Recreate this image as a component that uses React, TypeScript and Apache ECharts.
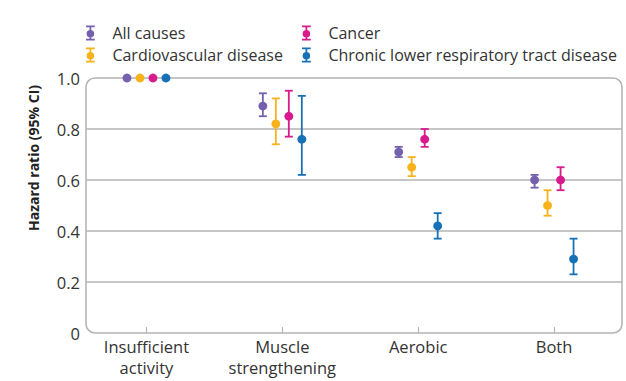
import React, { useEffect, useRef } from "react";
import * as echarts from "echarts";

const categories = ["Insufficient\nactivity", "Muscle\nstrengthening", "Aerobic", "Both"];
const seriesNames = ["All causes", "Cardiovascular disease", "Cancer", "Chronic lower respiratory tract disease"];
const seriesColors = ["#7460ac", "#f8b21c", "#d81b8c", "#1771b7"];
// hazard ratio, lower CI, upper CI per category (null CI = reference)
const allCauses: (number | null)[][] = [[1.0, null, null], [0.89, 0.85, 0.94], [0.71, 0.69, 0.73], [0.6, 0.57, 0.62]];
const cardiovascular: (number | null)[][] = [[1.0, null, null], [0.82, 0.74, 0.92], [0.65, 0.615, 0.69], [0.5, 0.46, 0.56]];
const cancer: (number | null)[][] = [[1.0, null, null], [0.85, 0.77, 0.95], [0.76, 0.73, 0.8], [0.6, 0.56, 0.65]];
const chronicLower: (number | null)[][] = [[1.0, null, null], [0.76, 0.62, 0.93], [0.42, 0.37, 0.47], [0.29, 0.23, 0.37]];
const yAxisTitle = "Hazard ratio (95% CI)";

const FONT = "Open Sans";
const W = 626;
const H = 381;
const GRID = { left: 86, right: 4, top: 78, bottom: 48 };
const ICON = "path://M0,0H7V1.4H0Z M2.8,1.4H4.2V4H2.8Z M2.8,9.2H4.2V10.6H2.8Z M0,10.6H7V12H0Z M0.5,6.6A3,3 0 1 1 6.5,6.6A3,3 0 1 1 0.5,6.6Z";

export default function App() {
  const ref = useRef<HTMLDivElement>(null);
  useEffect(() => {
    if (!ref.current) return;
    const chart = echarts.init(ref.current, null, { renderer: "svg" });
    const allData = [allCauses, cardiovascular, cancer, chronicLower];
    const offsetStep = 0.0956;
    const series = allData.map((arr, si) => ({
      name: seriesNames[si],
      type: "custom",
      z: 5,
      itemStyle: { color: seriesColors[si] },
      encode: { x: 0, y: 1 },
      data: arr.map((d, ci) => [ci + (si - 1.5) * offsetStep, d[0], d[1] == null ? NaN : d[1], d[2] == null ? NaN : d[2]]),
      renderItem: (params: any, api: any) => {
        const x = api.value(0);
        const v = api.value(1);
        const lo = api.value(2);
        const hi = api.value(3);
        const p = api.coord([x, v]);
        const color = seriesColors[si];
        const children: any[] = [];
        if (!isNaN(lo) && !isNaN(hi)) {
          const pl = api.coord([x, lo]);
          const ph = api.coord([x, hi]);
          const cap = 4;
          const ls = { stroke: color, lineWidth: 1.8 };
          children.push({ type: "line", shape: { x1: p[0], y1: pl[1], x2: p[0], y2: ph[1] }, style: ls });
          children.push({ type: "line", shape: { x1: p[0] - cap, y1: pl[1], x2: p[0] + cap, y2: pl[1] }, style: ls });
          children.push({ type: "line", shape: { x1: p[0] - cap, y1: ph[1], x2: p[0] + cap, y2: ph[1] }, style: ls });
        }
        children.push({ type: "circle", shape: { cx: p[0], cy: p[1], r: 4.4 }, style: { fill: color } });
        return { type: "group", children };
      },
    }));

    const legendCommon = {
      orient: "vertical",
      top: 20,
      itemWidth: 34,
      itemHeight: 15,
      itemGap: 6,
      selectedMode: false,
      textStyle: { fontFamily: FONT, fontSize: 16, color: "#333" },
    };

    chart.setOption({
      animation: false,
      textStyle: { fontFamily: FONT },
      legend: [
        { ...legendCommon, left: 81, data: [seriesNames[0], seriesNames[1]].map((n) => ({ name: n, icon: ICON })) },
        { ...legendCommon, left: 297, data: [seriesNames[2], seriesNames[3]].map((n) => ({ name: n, icon: ICON })) },
      ],
      grid: { ...GRID },
      graphic: [
        {
          type: "rect",
          z: 0,
          shape: { x: GRID.left, y: GRID.top, width: W - GRID.left - GRID.right, height: H - GRID.top - GRID.bottom, r: 9 },
          style: { fill: "none", stroke: "#b3b3b3", lineWidth: 1.5 },
        },
        {
          type: "text",
          x: 33,
          y: 158,
          rotation: Math.PI / 2,
          style: {
            text: yAxisTitle,
            align: "center",
            verticalAlign: "middle",
            fontFamily: FONT,
            fontSize: 14,
            fontWeight: "bold",
            fill: "#222",
          },
        },
      ],
      xAxis: {
        type: "value",
        min: -0.445,
        max: 3.5,
        axisLine: { show: false },
        splitLine: { show: false },
        axisTick: { show: true, inside: true, length: 6, customValues: [0, 1, 2, 3], lineStyle: { color: "#b3b3b3", width: 1.2 } },
        axisLabel: {
          customValues: [0, 1, 2, 3],
          formatter: (v: number) => categories[Math.round(v)] ?? "",
          fontFamily: FONT,
          fontSize: 16.5,
          color: "#333",
          lineHeight: 21,
          margin: 3,
        },
      },
      yAxis: {
        type: "value",
        min: 0,
        max: 1,
        interval: 0.2,
        axisLine: { show: false },
        axisTick: { show: false },
        axisLabel: {
          formatter: (v: number) => (v === 0 ? "0" : v.toFixed(1)),
          fontFamily: FONT,
          fontSize: 16.5,
          color: "#333",
          margin: 6,
        },
        splitLine: {
          show: true,
          lineStyle: { color: ["transparent", "#b3b3b3", "#b3b3b3", "#b3b3b3", "#b3b3b3", "transparent"], width: 1.5 },
        },
      },
      series,
    });
    return () => chart.dispose();
  }, []);
  return <div ref={ref} style={{ position: "absolute", left: 0, top: 0, width: W, height: H }} />;
}
